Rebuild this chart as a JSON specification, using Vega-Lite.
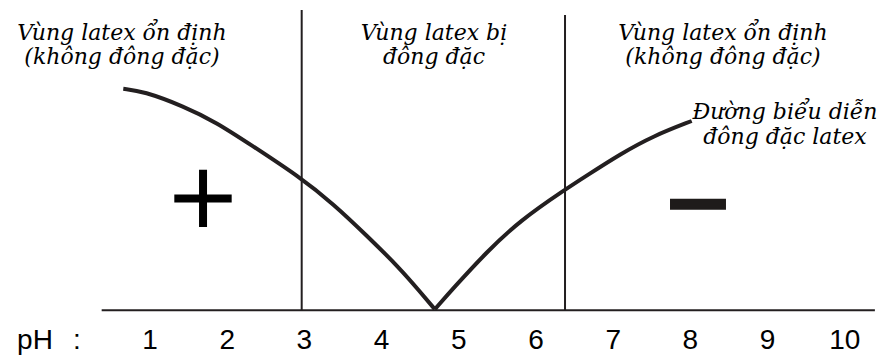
{
  "$schema": "https://vega.github.io/schema/vega-lite/v6.json",
  "width": 883,
  "height": 356,
  "autosize": {"type": "fit", "contains": "padding"},
  "padding": 0,
  "background": "white",
  "config": {"view": {"stroke": null}},
  "datasets": {
    "curve": [
      {"branch": "acid", "pH": 0.654, "v": 71.4},
      {"branch": "acid", "pH": 0.913, "v": 70.6},
      {"branch": "acid", "pH": 1.431, "v": 65.8},
      {"branch": "acid", "pH": 1.864, "v": 60.5},
      {"branch": "acid", "pH": 2.295, "v": 53.5},
      {"branch": "acid", "pH": 2.943, "v": 42.9},
      {"branch": "acid", "pH": 3.374, "v": 34.3},
      {"branch": "acid", "pH": 3.807, "v": 24.1},
      {"branch": "acid", "pH": 4.238, "v": 13.5},
      {"branch": "acid", "pH": 4.497, "v": 6.0},
      {"branch": "acid", "pH": 4.69, "v": 0.3},
      {"branch": "base", "pH": 4.69, "v": 0.3},
      {"branch": "base", "pH": 4.929, "v": 7.1},
      {"branch": "base", "pH": 5.361, "v": 18.8},
      {"branch": "base", "pH": 5.793, "v": 28.9},
      {"branch": "base", "pH": 6.376, "v": 38.9},
      {"branch": "base", "pH": 6.657, "v": 43.4},
      {"branch": "base", "pH": 7.088, "v": 50.3},
      {"branch": "base", "pH": 7.52, "v": 56.2},
      {"branch": "base", "pH": 8.017, "v": 61.0}
    ],
    "bounds": [
      {"pH": 2.965, "v": 0, "v2": 96.8},
      {"pH": 6.376, "v": 0, "v2": 95.2}
    ],
    "baseline": [
      {"pH": 0.374, "pH2": 10.39, "v": 0}
    ],
    "signs": [
      {"sign": "+", "pH": 1.315, "pH2": 2.058, "v": 36.06, "v2": 36.06},
      {"sign": "+", "pH": 1.687, "pH2": 1.687, "v": 45.29, "v2": 26.83},
      {"sign": "-", "pH": 7.736, "pH2": 8.461, "v": 34.13, "v2": 34.13}
    ],
    "notes": [
      {"pH": 0.637, "v": 87.2, "label": "Vùng latex ổn định"},
      {"pH": 0.637, "v": 79.5, "label": "(không đông đặc)"},
      {"pH": 4.679, "v": 87.2, "label": "Vùng latex bị"},
      {"pH": 4.679, "v": 79.5, "label": "đông đặc"},
      {"pH": 8.422, "v": 87.2, "label": "Vùng latex ổn định"},
      {"pH": 8.422, "v": 79.5, "label": "(không đông đặc)"},
      {"pH": 9.225, "v": 61.5, "label": "Đường biểu diễn"},
      {"pH": 9.225, "v": 53.5, "label": "đông đặc latex"}
    ],
    "ticks": [
      {"pH": -0.49, "v": -12.5, "label": "pH"},
      {"pH": 0.054, "v": -12.5, "label": ":"},
      {"pH": 1, "v": -12.5, "label": "1"},
      {"pH": 2, "v": -12.5, "label": "2"},
      {"pH": 3, "v": -12.5, "label": "3"},
      {"pH": 4, "v": -12.5, "label": "4"},
      {"pH": 5, "v": -12.5, "label": "5"},
      {"pH": 6, "v": -12.5, "label": "6"},
      {"pH": 7, "v": -12.5, "label": "7"},
      {"pH": 8, "v": -12.5, "label": "8"},
      {"pH": 9, "v": -12.5, "label": "9"},
      {"pH": 10, "v": -12.5, "label": "10"}
    ]
  },
  "resolve": {"scale": {"x": "shared", "y": "shared"}},
  "layer": [
    {
      "data": {"name": "baseline"},
      "mark": {"type": "rule", "color": "#231f20", "strokeWidth": 2},
      "encoding": {
        "x": {"field": "pH", "type": "quantitative", "scale": {"domain": [-0.943, 10.495], "nice": false, "zero": false}, "axis": null},
        "x2": {"field": "pH2"},
        "y": {"field": "v", "type": "quantitative", "scale": {"domain": [-14.1, 100], "nice": false, "zero": false}, "axis": null}
      }
    },
    {
      "data": {"name": "bounds"},
      "mark": {"type": "rule", "color": "#231f20", "strokeWidth": 2},
      "encoding": {
        "x": {"field": "pH", "type": "quantitative"},
        "y": {"field": "v", "type": "quantitative"},
        "y2": {"field": "v2"}
      }
    },
    {
      "data": {"name": "curve"},
      "mark": {"type": "line", "color": "#231f20", "strokeWidth": 4, "interpolate": "basis", "strokeCap": "butt"},
      "encoding": {
        "x": {"field": "pH", "type": "quantitative"},
        "y": {"field": "v", "type": "quantitative"},
        "detail": {"field": "branch", "type": "nominal"}
      }
    },
    {
      "data": {"name": "signs"},
      "transform": [{"filter": "datum.sign === '+'"}],
      "mark": {"type": "rule", "color": "#000000", "strokeWidth": 8},
      "encoding": {
        "x": {"field": "pH", "type": "quantitative"},
        "x2": {"field": "pH2"},
        "y": {"field": "v", "type": "quantitative"},
        "y2": {"field": "v2"}
      }
    },
    {
      "data": {"name": "signs"},
      "transform": [{"filter": "datum.sign === '-'"}],
      "mark": {"type": "rule", "color": "#1e1b1a", "strokeWidth": 11},
      "encoding": {
        "x": {"field": "pH", "type": "quantitative"},
        "x2": {"field": "pH2"},
        "y": {"field": "v", "type": "quantitative"},
        "y2": {"field": "v2"}
      }
    },
    {
      "data": {"name": "notes"},
      "mark": {"type": "text", "font": "DejaVu Serif", "fontStyle": "italic", "fontSize": 22, "align": "center", "baseline": "alphabetic", "color": "#000000"},
      "encoding": {
        "x": {"field": "pH", "type": "quantitative"},
        "y": {"field": "v", "type": "quantitative"},
        "text": {"field": "label", "type": "nominal"}
      }
    },
    {
      "data": {"name": "ticks"},
      "mark": {"type": "text", "font": "Liberation Sans", "fontSize": 28, "align": "center", "baseline": "alphabetic", "color": "#000000"},
      "encoding": {
        "x": {"field": "pH", "type": "quantitative"},
        "y": {"field": "v", "type": "quantitative"},
        "text": {"field": "label", "type": "nominal"}
      }
    }
  ]
}
